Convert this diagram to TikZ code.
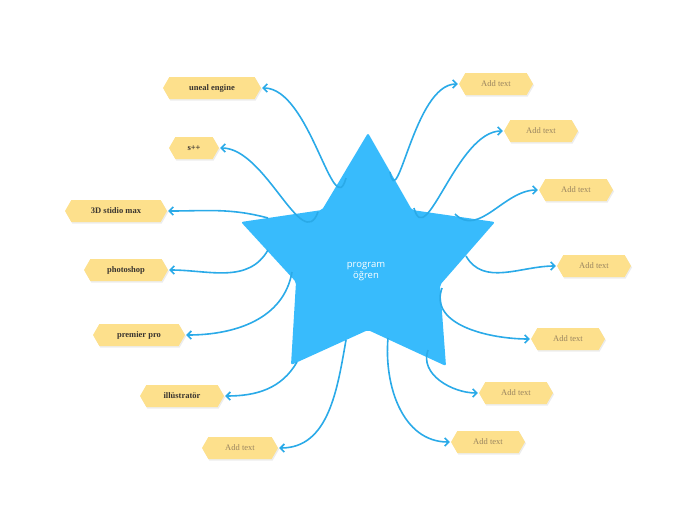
\documentclass[tikz,border=0pt]{standalone}
\usepackage{fontspec}
\newfontfamily\starfont{Open Sans}
\newfontfamily\labfont{Liberation Serif}
\usetikzlibrary{shapes.symbols,arrows.meta,shadows}
\definecolor{sblue}{HTML}{38BBFC}
\definecolor{lblue}{HTML}{2AAAE8}
\definecolor{hex}{HTML}{FDE08C}
\definecolor{dtext}{HTML}{3A3530}
\definecolor{ltext}{HTML}{9A8560}
\tikzset{
 lab/.style={signal, signal to=east and west, signal pointer angle=120, fill=hex, draw=none,
   minimum height=22pt, inner xsep=2pt, font=\labfont\bfseries\fontsize{8.5}{10}\selectfont,
   text=dtext, drop shadow={opacity=0.15, shadow xshift=1pt, shadow yshift=-1.5pt}},
 addt/.style={lab, text=ltext, font=\labfont\fontsize{8.5}{10}\selectfont},
 conn/.style={draw=lblue, line width=1.6pt, -{Straight Barb[length=4pt,width=8pt]}},
}
\begin{document}
\begin{tikzpicture}[x=1pt,y=-1pt]
\useasboundingbox (0,0) rectangle (697,520);
\fill[sblue, rounded corners=2pt] (368,133) -- (412,210) -- (495,222) -- (440,285) -- (446,366) -- (368,330)
 -- (291,365) -- (296,282) -- (241,222) -- (322,210) -- cycle;
\node[text=white, font=\starfont\fontsize{9.5}{11}\selectfont, align=center] (c) at (366,272) {program\\öğren};
% left labels
\node[lab, minimum width=98pt] (l1) at (212,88) {uneal engine};
\node[lab, minimum width=50pt] (l2) at (194,148) {s++};
\node[lab, minimum width=102pt] (l3) at (116,211) {3D stidio max};
\node[lab, minimum width=84pt] (l4) at (126,270) {photoshop};
\node[lab, minimum width=92pt] (l5) at (139,335) {premier pro};
\node[lab, minimum width=84pt] (l6) at (182,396) {illüstratör};
\node[addt, minimum width=76pt] (l7) at (240,448) {Add text};
% right labels
\node[addt, minimum width=74pt] (r1) at (496,84) {Add text};
\node[addt, minimum width=74pt] (r2) at (541,131) {Add text};
\node[addt, minimum width=74pt] (r3) at (576,190) {Add text};
\node[addt, minimum width=74pt] (r4) at (594,266) {Add text};
\node[addt, minimum width=74pt] (r5) at (568,339) {Add text};
\node[addt, minimum width=74pt] (r6) at (516,393) {Add text};
\node[addt, minimum width=74pt] (r7) at (488,442) {Add text};
% start points
\coordinate (s1) at (346,178);
\coordinate (s2) at (318,212);
\coordinate (s3) at (268,218);
\coordinate (s4) at (268,250);
\coordinate (s5) at (292,272);
\coordinate (s6) at (297,362);
\coordinate (s7) at (346,340);
\coordinate (t1) at (390,172);
\coordinate (t2) at (414,208);
\coordinate (t3) at (455,214);
\coordinate (t4) at (466,256);
\coordinate (t5) at (442,288);
\coordinate (t6) at (428,350);
\coordinate (t7) at (388,338);
\draw[conn] (s1) to[out=-105, in=0] ([xshift=1pt]l1.east);
\draw[conn] (s2) to[out=-110, in=0] ([xshift=1pt]l2.east);
\draw[conn] (s3) to[out=165, in=0] ([xshift=1pt]l3.east);
\draw[conn] (s4) to[out=-120, in=0] ([xshift=1pt]l4.east);
\draw[conn] (s5) to[out=-100, in=0] ([xshift=1pt]l5.east);
\draw[conn] (s6) to[out=-120, in=0] ([xshift=1pt]l6.east);
\draw[conn] (s7) to[out=-100, in=0] ([xshift=1pt]l7.east);
\draw[conn] (t1) to[out=-80, in=180] ([xshift=-1pt]r1.west);
\draw[conn] (t2) to[out=-75, in=180] ([xshift=-1pt]r2.west);
\draw[conn] (t3) to[out=-45, in=180] ([xshift=-1pt]r3.west);
\draw[conn] (t4) to[out=-60, in=180] ([xshift=-1pt]r4.west);
\draw[conn] (t5) to[out=-110, in=180] ([xshift=-1pt]r5.west);
\draw[conn] (t6) to[out=-110, in=180] ([xshift=-1pt]r6.west);
\draw[conn] (t7) to[out=-95, in=180] ([xshift=-1pt]r7.west);
\end{tikzpicture}
\end{document}
